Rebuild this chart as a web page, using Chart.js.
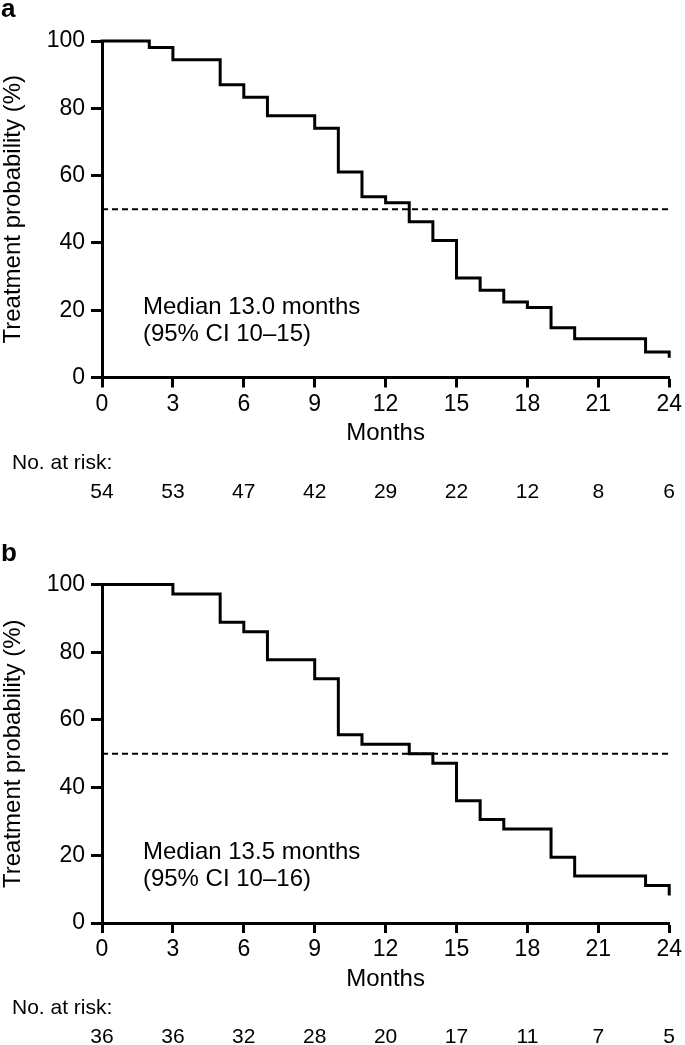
<!DOCTYPE html>
<html>
<head>
<meta charset="utf-8">
<script src="https://cdn.jsdelivr.net/npm/chart.js@4.4.1/dist/chart.umd.min.js"></script>
<style>
  html, body { margin: 0; padding: 0; background: #fff; overflow: hidden; }
  body { width: 685px; height: 1045px; position: relative; }
  canvas { position: absolute; left: 0; }
</style>
</head>
<body>
<canvas id="chartA" width="685" height="544" style="top:0px"></canvas>
<canvas id="chartB" width="685" height="501" style="top:544px"></canvas>
<script>
// ---- data ----
const monthTicks = [0, 3, 6, 9, 12, 15, 18, 21, 24];

const timesA = [0, 2, 3, 5, 6, 7, 9, 10, 11, 12, 13, 14, 15, 16, 17, 18, 19, 20, 23, 24];
const survA  = [100, 98.1, 94.4, 87.0, 83.3, 77.8, 74.1, 61.1, 53.7, 51.9, 46.3, 40.7, 29.6, 25.9, 22.4, 20.8, 14.8, 11.5, 7.6, 6.3];
const riskA  = [54, 53, 47, 42, 29, 22, 12, 8, 6];
const medianTextA = ["Median 13.0 months", "(95% CI 10\u201315)"];

const timesB = [0, 3, 5, 6, 7, 9, 10, 11, 13, 14, 15, 16, 17, 19, 20, 23, 24];
const survB  = [100, 97.2, 88.9, 86.1, 77.8, 72.2, 55.6, 52.8, 50.0, 47.2, 36.1, 30.6, 27.8, 19.4, 13.9, 11.1, 8.6];
const riskB  = [36, 36, 32, 28, 20, 17, 11, 7, 5];
const medianTextB = ["Median 13.5 months", "(95% CI 10\u201316)"];

const medianLine = 50;
const yTitle = "Treatment probability (%)";
const xTitle = "Months";
const riskTitle = "No. at risk:";

const FF = '"Liberation Sans", Arial, Helvetica, sans-serif';

function makeChart(canvasId, letter, times, surv, risk, medianText, plotBottom, plotTop) {
  const canvas = document.getElementById(canvasId);
  const H = canvas.height;
  const kmData = times.map((t, i) => ({ x: t, y: surv[i] }));
  const refData = [{ x: 0, y: medianLine }, { x: 24, y: medianLine }];

  const textPlugin = {
    id: 'extraText',
    afterDraw(chart) {
      const ctx = chart.ctx;
      const xs = chart.scales.x, ys = chart.scales.y;
      const area = chart.chartArea;
      ctx.save();
      ctx.fillStyle = '#000';
      // panel letter
      ctx.font = 'bold 26px ' + FF;
      ctx.textAlign = 'left';
      ctx.textBaseline = 'alphabetic';
      ctx.fillText(letter, 1, 17);
      // median annotation
      ctx.font = '24px ' + FF;
      const tx = xs.getPixelForValue(1.73);
      const ty = ys.getPixelForValue(18.8);
      ctx.fillText(medianText[0], tx, ty);
      ctx.fillText(medianText[1], tx, ty + 27);
      // x title
      ctx.font = '24px ' + FF;
      ctx.textAlign = 'center';
      ctx.textBaseline = 'middle';
      ctx.fillText(xTitle, (area.left + area.right) / 2, area.bottom + 56);
      // number at risk
      ctx.font = '21px ' + FF;
      ctx.textAlign = 'left';
      ctx.fillText(riskTitle, 12, area.bottom + 85.5);
      ctx.textAlign = 'center';
      risk.forEach((n, i) => {
        ctx.fillText(String(n), xs.getPixelForValue(monthTicks[i]), area.bottom + 114.5);
      });
      ctx.restore();
    }
  };

  return new Chart(canvas, {
    type: 'line',
    data: {
      datasets: [
        {
          data: kmData,
          stepped: true,
          borderColor: '#000',
          borderWidth: 3,
          pointRadius: 0,
          fill: false,
          clip: false,
          borderCapStyle: 'square',
          borderJoinStyle: 'miter'
        },
        {
          data: refData,
          borderColor: '#000',
          borderWidth: 2,
          borderDash: [6, 4],
          pointRadius: 0,
          fill: false
        }
      ]
    },
    options: {
      responsive: false,
      devicePixelRatio: 1,
      animation: false,
      events: [],
      layout: { padding: { top: plotTop, right: 13, left: 0, bottom: 0 } },
      plugins: { legend: { display: false }, tooltip: { enabled: false } },
      scales: {
        x: {
          type: 'linear',
          min: 0, max: 24,
          afterBuildTicks: s => { s.ticks = monthTicks.map(v => ({ value: v })); },
          afterFit: s => { s.height = H - plotBottom; },
          border: { display: true, color: '#000', width: 3 },
          grid: { display: true, drawOnChartArea: false, drawTicks: true, tickLength: 10, tickWidth: 3, tickColor: '#000' },
          ticks: { color: '#000', font: { family: FF, size: 23 }, padding: 3, autoSkip: false, maxRotation: 0 }
        },
        y: {
          type: 'linear',
          min: 0, max: 100,
          ticks: { stepSize: 20, color: '#000', font: { family: FF, size: 23 }, padding: 6 },
          afterFit: s => { s.width = 102; },
          border: { display: true, color: '#000', width: 3 },
          grid: { display: true, drawOnChartArea: false, drawTicks: true, tickLength: 11, tickWidth: 3, tickColor: '#000' },
          title: { display: true, text: yTitle, color: '#000', font: { family: FF, size: 24, lineHeight: 1.0 }, padding: { top: 1, bottom: 0 } }
        }
      }
    },
    plugins: [textPlugin]
  });
}

makeChart('chartA', 'a', timesA, survA, riskA, medianTextA, 377.5, 41);
makeChart('chartB', 'b', timesB, survB, riskB, medianTextB, 379, 40.6);
</script>
</body>
</html>
